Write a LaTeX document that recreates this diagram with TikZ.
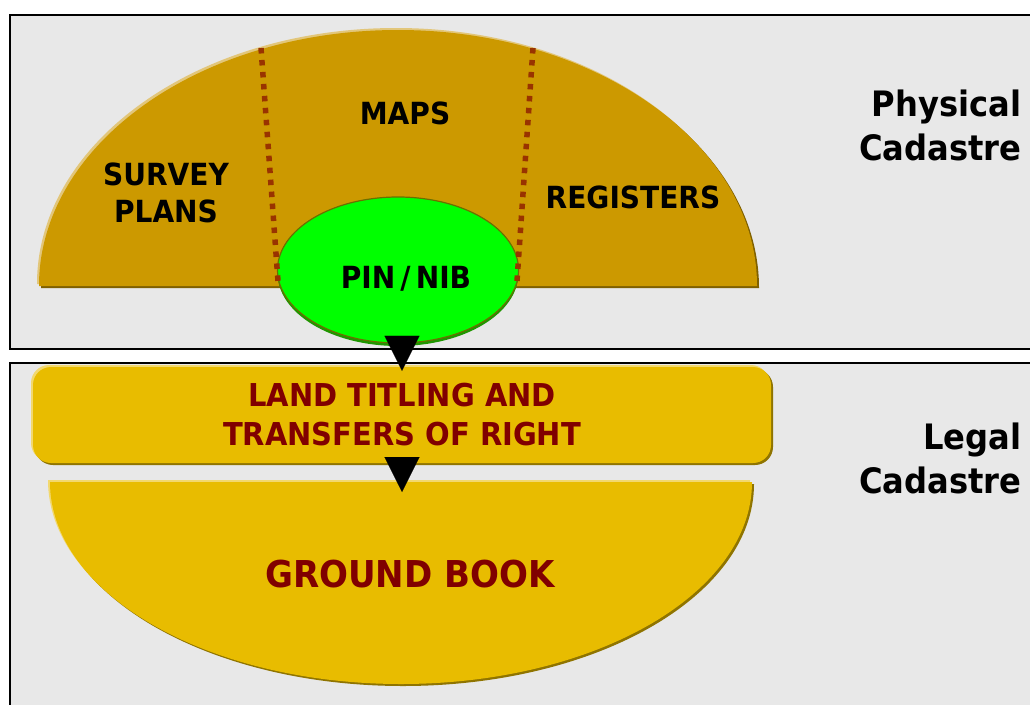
\documentclass[tikz,border=0pt]{standalone}
\usepackage{fontspec}
\setmainfont{DejaVu Sans}
\usetikzlibrary{shapes.geometric,shadows,arrows.meta}

\definecolor{panelgray}{HTML}{E8E8E8}
\definecolor{ochre}{HTML}{CC9900}
\definecolor{ochredark}{HTML}{7F6000}
\definecolor{ochrelight}{HTML}{E2C67A}
\definecolor{gold}{HTML}{E8BC00}
\definecolor{golddark}{HTML}{8F7400}
\definecolor{goldlight}{HTML}{F2D86E}
\definecolor{pinfill}{HTML}{00FF00}
\definecolor{pinedge}{HTML}{1E9600}
\definecolor{pinrim}{HTML}{6A7000}
\definecolor{dotred}{HTML}{993300}
\definecolor{titlered}{HTML}{800000}

% narrower bold face, taller letters
\newcommand{\narrowbold}[2]{\bfseries\fontsize{#1}{#2}\selectfont\addfontfeature{FakeStretch=0.92}}

\begin{document}
\begin{tikzpicture}[x=1pt,y=-1pt,
    panel/.style={draw=black,line width=2pt,fill=panelgray},
    embossed/.style n args={3}{fill=#1,
        general shadow={shadow xshift=-2pt,shadow yshift=2pt,fill=#3},
        general shadow={shadow xshift=2pt,shadow yshift=-2pt,fill=#2}},
    divider/.style={draw=dotred,line width=5.5pt,dash pattern=on 5.5pt off 6.5pt},
    pinshape/.style={ellipse,minimum width=241pt,minimum height=146pt,inner sep=0pt,
        fill=pinfill,draw=pinrim,line width=1.2pt,
        general shadow={shadow yshift=-3pt,fill=pinedge}},
    titlebox/.style={rounded corners=18pt,minimum width=738pt,minimum height=96pt,
        embossed={gold}{golddark}{goldlight}},
    tag/.style={font=\narrowbold{30.5}{37},align=center},
    legaltag/.style={font=\narrowbold{31.5}{39},align=center,text=titlered},
    sidetag/.style={font=\narrowbold{35}{44},align=right,anchor=east},
    flow/.style={line width=0.1pt,-{Triangle[width=35pt,length=35pt]}}]

    \useasboundingbox (0,0) rectangle (1030,704);
    \clip (0,0) rectangle (1030,704);
    \fill[white] (0,0) rectangle (1030,704);

    % the two bands
    \draw[panel] (9.5,14.5) rectangle (1040,348.5);
    \draw[panel] (9.5,362.5) rectangle (1040,715);

    % physical side
    \path[embossed={ochre}{ochredark}{ochrelight}]
        (39,286) arc[start angle=180,end angle=360,x radius=359,y radius=256] -- cycle;
    \node[pinshape] (pinbox) at (398,270) {};
    \draw[divider] (261,48) -- (278,281);
    \draw[divider] (533,48) -- (517,281);

    \node[tag] (maps) at (405,113) {MAPS};
    \node[tag] (survey) at (166,192.5) {SURVEY\\PLANS};
    \node[tag] (registers) at (633,197) {REGISTERS};
    \node[tag] (pin) at (406,279) {PIN\,/\,NIB};
    \node[sidetag] (physical) at (1025,125) {Physical\\Cadastre};

    % legal side
    \path[embossed={gold}{golddark}{goldlight}]
        (50,482) arc[start angle=180,end angle=0,x radius=351,y radius=202] -- cycle;
    \node[titlebox,legaltag] (titling) at (402,415) {LAND TITLING AND\\TRANSFERS OF RIGHT};
    \node[legaltag,font=\narrowbold{37}{40}] (ground) at (410,574) {GROUND BOOK};
    \node[sidetag] (legal) at (1025,458) {Legal\\Cadastre};

    \coordinate (booktip) at (402,492);
    \draw[flow] (pinbox.south -| titling.north) -- ([yshift=-4pt]titling.north);
    \draw[flow] (titling.south) -- (booktip);
\end{tikzpicture}
\end{document}
